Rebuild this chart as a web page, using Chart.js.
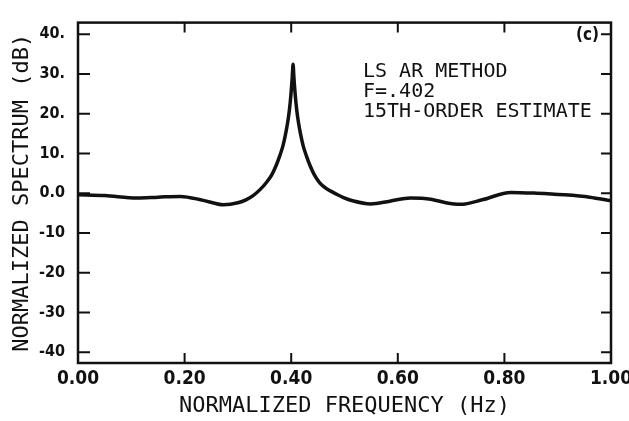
<!DOCTYPE html>
<html>
<head>
<meta charset="utf-8">
<script src="https://cdn.jsdelivr.net/npm/chart.js@4.4.1/dist/chart.umd.min.js"></script>
<style>
  html, body { margin: 0; padding: 0; background: #fff; }
</style>
</head>
<body>
<canvas id="spectrumChart" width="629" height="421"></canvas>
<script>
// values (normalized frequency, dB)
const freq = [0.00, 0.05, 0.111, 0.15, 0.192, 0.235, 0.273, 0.30, 0.316, 0.3285,
              0.3415, 0.3535, 0.3635, 0.3715, 0.3785, 0.3845, 0.3895, 0.3935, 0.3965, 0.3995,
              0.402, 0.4035, 0.405, 0.4075, 0.4105, 0.4135, 0.4175, 0.4225, 0.4285, 0.4355,
              0.4435, 0.4535, 0.4655, 0.4785, 0.487, 0.498, 0.515, 0.549, 0.585, 0.624,
              0.662, 0.690, 0.718, 0.76, 0.812, 0.86, 0.912, 0.96, 1.00];
const spectrumDb = [-0.4, -0.6, -1.2, -1.0, -0.8, -1.8, -2.9, -2.4, -1.6, -0.6,
                    0.9, 2.7, 4.6, 6.9, 9.4, 11.9, 14.9, 17.9, 20.8, 24.8,
                    29.3, 32.4, 29.3, 24.8, 20.8, 17.9, 14.9, 11.9, 9.4, 6.9,
                    4.6, 2.6, 1.2, 0.2, -0.4, -1.1, -1.9, -2.7, -2.0, -1.2,
                    -1.5, -2.4, -2.8, -1.6, 0.2, 0.0, -0.4, -1.0, -1.9];

const xTicks = [0, 0.2, 0.4, 0.6, 0.8, 1.0];
const xTickLabels = ['0.00', '0.20', '0.40', '0.60', '0.80', '1.00'];
const yTicks = [-40, -30, -20, -10, 0, 10, 20, 30, 40];
const yTickLabels = ['-40', '-30', '-20', '-10', '0.0', '10.', '20.', '30.', '40.'];

const noteLines = ['LS AR METHOD', 'F=.402', '15TH-ORDER ESTIMATE'];
const panelTag = '(c)';

const ink = '#111';

// frame, inward tick marks and the text notes inside the plot
const frameTicks = {
  id: 'frameTicks',
  afterDatasetsDraw(chart) {
    const { ctx, chartArea: a, scales: { x, y } } = chart;
    ctx.save();
    ctx.strokeStyle = ink;
    ctx.lineWidth = 2.5;
    ctx.strokeRect(a.left, a.top, a.right - a.left, a.bottom - a.top);

    ctx.lineWidth = 2;
    ctx.beginPath();
    yTicks.forEach(v => {
      const py = y.getPixelForValue(v);
      ctx.moveTo(a.left, py); ctx.lineTo(a.left + 12, py);
      ctx.moveTo(a.right, py); ctx.lineTo(a.right - 10, py);
    });
    xTicks.slice(1, -1).forEach(v => {
      const px = x.getPixelForValue(v);
      ctx.moveTo(px, a.bottom); ctx.lineTo(px, a.bottom - 10);
      ctx.moveTo(px, a.top); ctx.lineTo(px, a.top + 10);
    });
    ctx.stroke();

    ctx.fillStyle = ink;
    ctx.textBaseline = 'alphabetic';
    ctx.font = '20px "DejaVu Sans Mono"';
    noteLines.forEach((t, i) => ctx.fillText(t, a.left + 285, a.top + 54 + i * 20));

    ctx.font = 'bold 17px "DejaVu Sans Condensed"';
    ctx.textAlign = 'right';
    ctx.fillText(panelTag, a.right - 12, a.top + 17);
    ctx.restore();
  }
};

new Chart(document.getElementById('spectrumChart'), {
  type: 'line',
  data: {
    datasets: [{
      data: freq.map((f, i) => ({ x: f, y: spectrumDb[i] })),
      borderColor: ink,
      borderWidth: 3.5,
      pointRadius: 0,
      fill: false,
      cubicInterpolationMode: 'monotone'
    }]
  },
  options: {
    responsive: false,
    animation: false,
    layout: { padding: { top: 13, right: 18, left: 0, bottom: 0 } },
    plugins: { legend: { display: false }, tooltip: { enabled: false } },
    scales: {
      x: {
        type: 'linear',
        min: 0,
        max: 1,
        afterBuildTicks: s => { s.ticks = xTicks.map(v => ({ value: v })); },
        afterFit: s => { s.height = 58; s.paddingLeft = 0; s.paddingRight = 0; },
        grid: { display: false, drawTicks: false },
        border: { display: false },
        ticks: {
          padding: 5,
          color: ink,
          maxRotation: 0,
          font: { family: '"DejaVu Sans Condensed"', size: 19, weight: 'bold' },
          callback: v => xTickLabels[xTicks.indexOf(v)]
        },
        title: {
          display: true,
          text: 'NORMALIZED FREQUENCY (Hz)',
          color: ink,
          padding: { top: 0, bottom: 2 },
          font: { family: '"DejaVu Sans Mono"', size: 22 }
        }
      },
      y: {
        min: -42.7,
        max: 42.9,
        afterBuildTicks: s => { s.ticks = yTicks.map(v => ({ value: v })); },
        afterFit: s => { s.width = 78; },
        grid: { display: false, drawTicks: false },
        border: { display: false },
        ticks: {
          padding: 13,
          color: ink,
          font: { family: '"DejaVu Sans Condensed"', size: 16, weight: 'bold' },
          callback: v => yTickLabels[yTicks.indexOf(v)]
        },
        title: {
          display: true,
          text: 'NORMALIZED SPECTRUM (dB)',
          color: ink,
          padding: { top: 9, bottom: 0 },
          font: { family: '"DejaVu Sans Mono"', size: 22 }
        }
      }
    }
  },
  plugins: [frameTicks]
});
</script>
</body>
</html>
